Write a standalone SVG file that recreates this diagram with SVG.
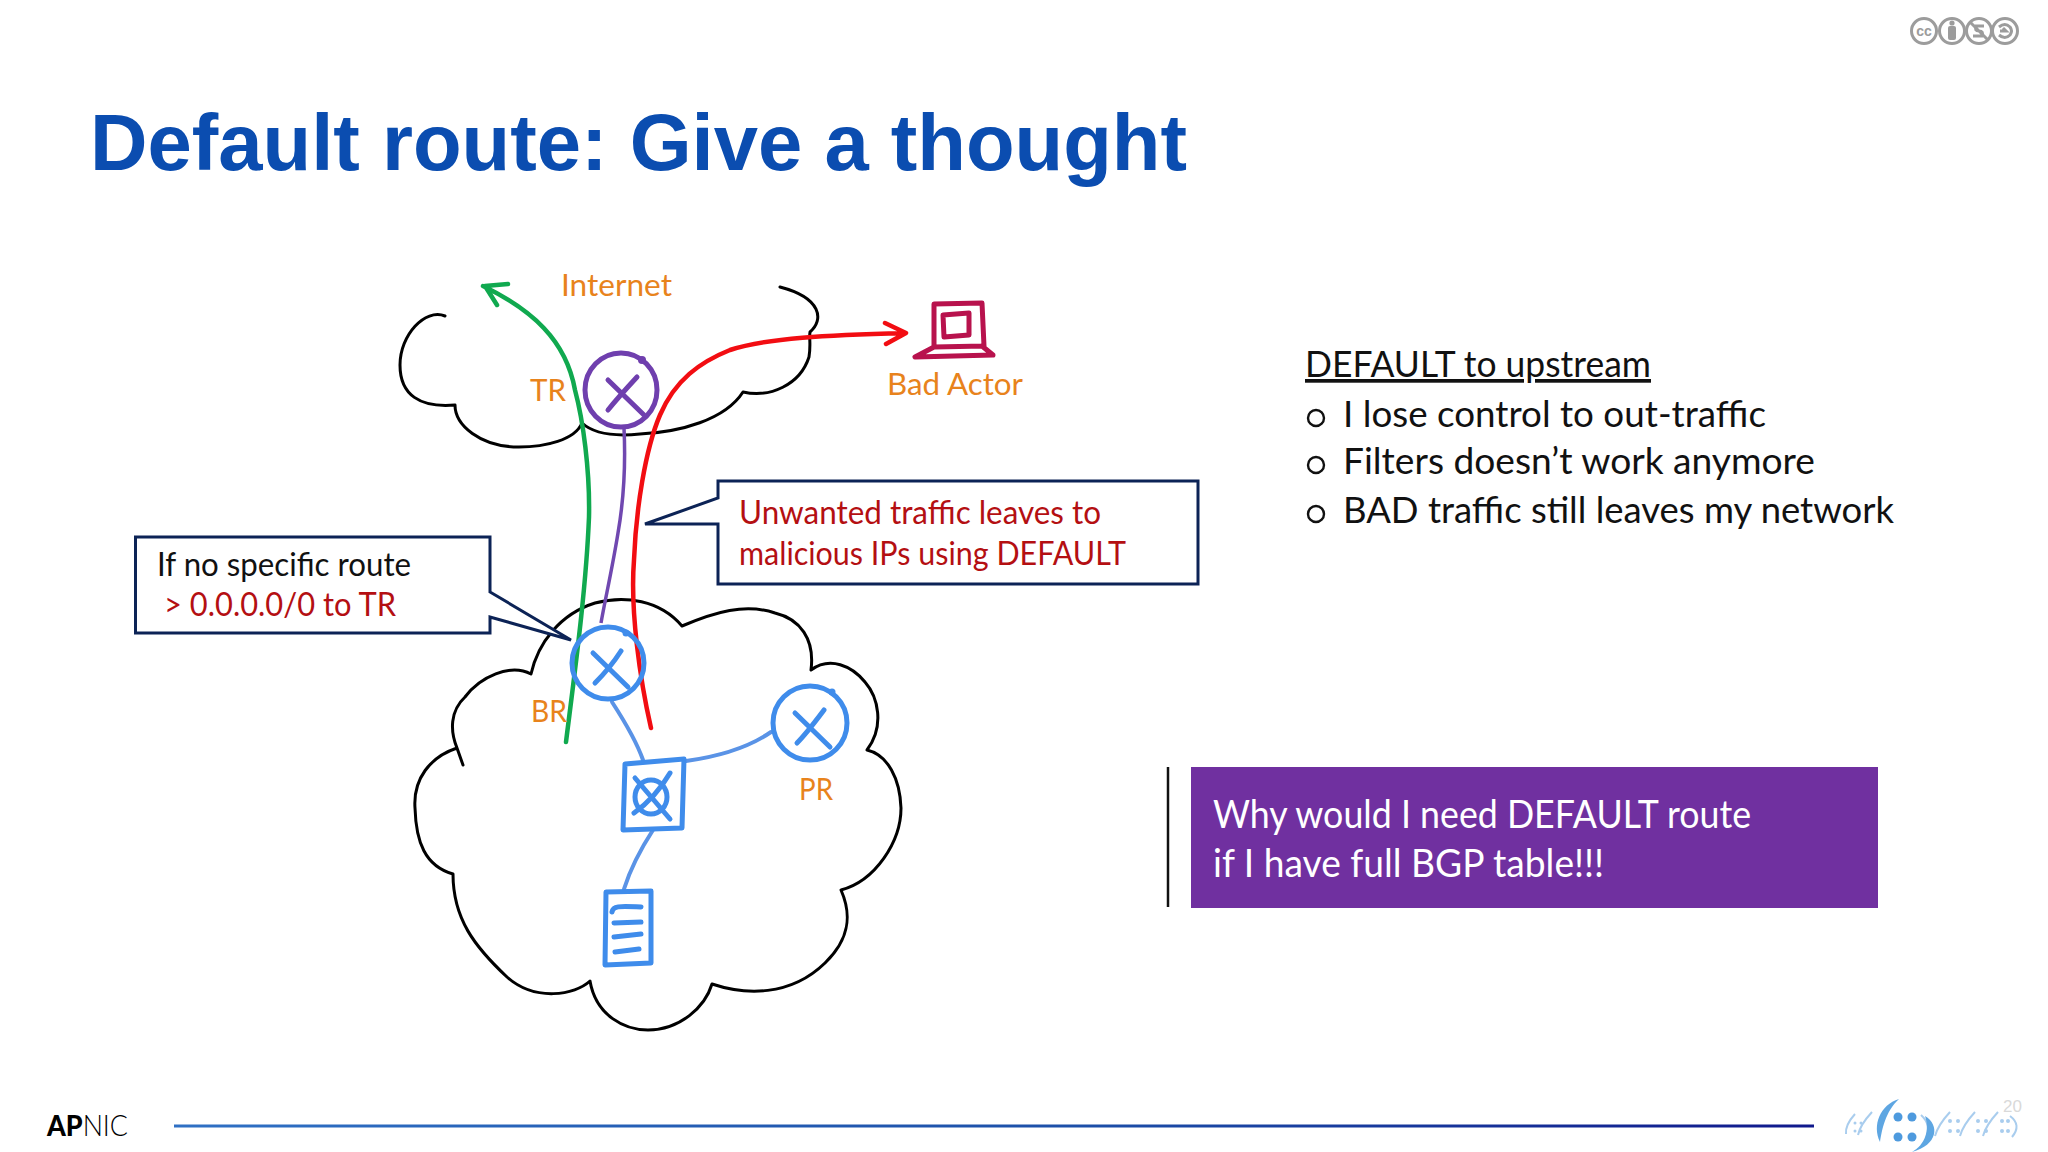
<svg xmlns="http://www.w3.org/2000/svg" width="2048" height="1152" viewBox="0 0 2048 1152">
<defs>
<linearGradient id="rule" x1="0" x2="1" y1="0" y2="0"><stop offset="0" stop-color="#2f70c4"/><stop offset="0.55" stop-color="#1c4fa8"/><stop offset="1" stop-color="#10198c"/></linearGradient>
</defs>
<style>
text{font-family:"Lato","Liberation Sans",sans-serif}
.or{fill:#e8831c;font-size:31px}
.rd{fill:#b40f12;font-size:32px}
.bk{fill:#111;font-size:32px}
.rt{fill:#111;font-size:37px}
.wh{fill:#fff;font-size:38px}
.bul{fill:none;stroke:#111;stroke-width:2.4}
.cl{fill:none;stroke:#000;stroke-width:3;stroke-linecap:round;stroke-linejoin:round}
.bl{fill:none;stroke:#3f8ceb;stroke-width:5;stroke-linecap:round;stroke-linejoin:round}
.lk{fill:none;stroke:#5a93e6;stroke-width:4;stroke-linecap:round}
.pu{fill:none;stroke:#6f3fae;stroke-width:5;stroke-linecap:round;stroke-linejoin:round}
.box{fill:#fff;stroke:#0c2356;stroke-width:3}
.cc{fill:none;stroke:#9c9c9c;stroke-width:3}
</style>
<rect width="2048" height="1152" fill="#fff"/>
<text x="90" y="170" font-size="80" font-weight="700" fill="#0b4db0" style="font-family:'Liberation Sans',sans-serif" textLength="1097" lengthAdjust="spacingAndGlyphs">Default route: Give a thought</text>
<g id="cc-badges">
<circle class="cc" cx="1924" cy="31" r="12.500"/><circle class="cc" cx="1952" cy="31" r="12.500"/><circle class="cc" cx="1979" cy="31" r="12.500"/><circle class="cc" cx="2005" cy="31" r="12.500"/>
<text x="1924" y="36" font-size="14" font-weight="700" text-anchor="middle" fill="#9c9c9c" style="font-family:'Liberation Sans',sans-serif">cc</text>
<circle cx="1952" cy="23" r="2.600" fill="#9c9c9c"/><rect x="1948" y="26" width="8" height="14" rx="2" fill="#9c9c9c"/>
<path d="M1970,22L1988,40M1984,26H1976Q1974,31 1979,31Q1984,31 1982,36H1973" class="cc" stroke-width="2.200"/>
<path d="M1999,27Q2005,22 2010,27Q2013,31 2010,35Q2005,40 1999,35M2000,31h6l-3,-3" class="cc" stroke-width="2.600"/>
</g>
<g id="internet-cloud"><path class="cl" d="M445,316C425,308 400,335 400,365C400,395 420,408 455,405C455,425 480,447 519,447C545,447 575,440 582,423C595,435 620,436 640,434C680,432 725,420 743,392C770,398 800,385 809,357C811,345 809,338 810,332C824,320 822,298 780,287"/></g>
<g id="network-cloud"><path class="cl" d="M463,765L457,748C430,757 413,779 415,808C416,842 425,866 453,874C453,919 475,947 507,977C535,1002 575,995 590,981C596,1016 625,1030 648,1030C680,1030 705,1007 712,984C745,995 790,997 825,963C850,939 852,915 841,890C875,881 901,842 901,808C900,779 888,755 867,750C885,726 878,697 865,682C852,666 830,656 811,670C815,639 800,619 775,613C745,603 715,612 682,626C660,600 625,595 595,603C560,614 538,643 531,674C510,663 480,677 465,697C450,711 450,731 457,748"/></g>
<g id="connectors">
<path d="M624,428C626,470 622,510 618,533C612,570 605,600 601,623" fill="none" stroke="#7048b0" stroke-width="3.500"/>
<path class="lk" d="M612,702C625,722 636,740 643,760"/>
<path class="lk" d="M686,761C715,757 745,750 771,732"/>
<path class="lk" d="M653,830C640,850 630,870 624,889"/>
<path d="M566,742C575,670 586,590 589,517C590,470 583,420 575,390C566,340 532,310 483,286M508,284L485,286L497,305" fill="none" stroke="#10a94f" stroke-width="4.500" stroke-linejoin="round" stroke-linecap="round"/>
<path d="M651,728C640,680 630,610 634,560C636,510 645,450 660,415C675,380 700,362 730,350C765,338 830,335 905,333M885,323L906,333L886,344" fill="none" stroke="#f20d12" stroke-width="4.500" stroke-linejoin="round" stroke-linecap="round"/>
</g>
<g id="tr"><ellipse class="pu" cx="621" cy="390" rx="36" ry="37"/><circle cx="642" cy="360" r="4" fill="#6f3fae"/><path class="pu" d="M608,380L644,415M637,377C625,390 616,400 608,410"/><text class="or" x="530" y="401" textLength="36" lengthAdjust="spacingAndGlyphs">TR</text></g>
<g id="br"><circle class="bl" cx="608" cy="663" r="36"/><circle cx="626" cy="633" r="3.500" fill="#3f8ceb"/><path class="bl" d="M593,653L628,687M621,651C612,665 603,675 595,683"/><text class="or" x="531" y="722" textLength="36" lengthAdjust="spacingAndGlyphs">BR</text></g>
<g id="pr"><circle class="bl" cx="810" cy="723" r="37"/><circle cx="832" cy="692" r="3.500" fill="#3f8ceb"/><path class="bl" d="M795,713L830,747M824,710C815,722 805,735 797,743"/><text class="or" x="799" y="800" textLength="34" lengthAdjust="spacingAndGlyphs">PR</text></g>
<g id="switch"><path class="bl" d="M625,764L684,759L682,828L623,830Z"/><ellipse class="bl" cx="651" cy="797" rx="16" ry="17"/><path class="bl" d="M635,778L670,819M670,773C660,790 648,803 634,813"/></g>
<g id="server"><path class="bl" d="M606,892L651,891L651,963L605,965Z"/><path class="bl" d="M612,912C613,906 618,906 641,907M614,923L641,922M614,937L641,934M615,952L639,949" stroke-width="4"/></g>
<g id="bad-actor"><path d="M934,304L982,303L984,346L934,347ZM943,315L969,313L969,335L944,337ZM934,347L915,357L993,355L982,346" fill="none" stroke="#b8124d" stroke-width="5" stroke-linejoin="round" stroke-linecap="round"/><text class="or" x="887" y="395" textLength="136" lengthAdjust="spacingAndGlyphs">Bad Actor</text></g>
<g id="internet-label"><text class="or" x="561" y="296" textLength="111" lengthAdjust="spacingAndGlyphs">Internet</text></g>
<g id="callout-route"><path class="box" d="M135.500,537H490V592L571,640L490,617V633H135.500Z"/><text class="bk" x="157" y="576" textLength="254" lengthAdjust="spacingAndGlyphs">If no specific route</text><text class="rd" x="164" y="616" textLength="232" lengthAdjust="spacingAndGlyphs">&gt; 0.0.0.0/0 to TR</text></g>
<g id="callout-traffic"><path class="box" d="M718,481H1198V584H718V524H645L718,498Z"/><text class="rd" x="739" y="524" textLength="362" lengthAdjust="spacingAndGlyphs">Unwanted traffic leaves to</text><text class="rd" x="739" y="565" textLength="387" lengthAdjust="spacingAndGlyphs">malicious IPs using DEFAULT</text></g>
<g id="notes">
<text class="rt" x="1305" y="377" text-decoration="underline" textLength="346" lengthAdjust="spacingAndGlyphs">DEFAULT to upstream</text>
<circle class="bul" cx="1316" cy="418" r="8"/><text class="rt" x="1343" y="427" textLength="423" lengthAdjust="spacingAndGlyphs">I lose control to out-traffic</text>
<circle class="bul" cx="1316" cy="465" r="8"/><text class="rt" x="1343" y="474" textLength="472" lengthAdjust="spacingAndGlyphs">Filters doesn’t work anymore</text>
<circle class="bul" cx="1316" cy="514" r="8"/><text class="rt" x="1343" y="523" textLength="551" lengthAdjust="spacingAndGlyphs">BAD traffic still leaves my network</text>
</g>
<g id="question"><path d="M1168,767V907" stroke="#111" stroke-width="2.500"/><rect x="1191" y="767" width="687" height="141" fill="#7030a0"/><text class="wh" x="1213" y="828" textLength="538" lengthAdjust="spacingAndGlyphs">Why would I need DEFAULT route</text><text class="wh" x="1213" y="877" textLength="391" lengthAdjust="spacingAndGlyphs">if I have full BGP table!!!</text></g>
<g id="footer">
<text x="47" y="1136" font-size="29" fill="#000" textLength="81" lengthAdjust="spacingAndGlyphs"><tspan font-weight="900">AP</tspan><tspan font-weight="300">NIC</tspan></text>
<rect x="174" y="1124.500" width="1640" height="3" fill="url(#rule)"/>
<g fill="none" stroke="#a9cdee" stroke-width="2"><path d="M1855,1114Q1845,1125 1846,1134M1872,1112Q1860,1125 1858,1135M1921,1115Q1932,1125 1926,1138M1950,1112Q1938,1125 1935,1136M1975,1112Q1963,1125 1960,1136M1998,1112Q1986,1125 1983,1136M2010,1116Q2022,1125 2012,1137"/></g>
<g fill="#a9cdee"><circle cx="1855" cy="1123" r="1.500"/><circle cx="1861" cy="1123" r="1.500"/><circle cx="1855" cy="1131" r="1.500"/><circle cx="1861" cy="1131" r="1.500"/><circle cx="1950" cy="1121" r="2"/><circle cx="1958" cy="1121" r="2"/><circle cx="1950" cy="1131" r="2"/><circle cx="1958" cy="1131" r="2"/><circle cx="1978" cy="1121" r="2"/><circle cx="1986" cy="1121" r="2"/><circle cx="1978" cy="1131" r="2"/><circle cx="1986" cy="1131" r="2"/><circle cx="2002" cy="1121" r="2"/><circle cx="2008" cy="1121" r="2"/><circle cx="2002" cy="1131" r="2"/><circle cx="2008" cy="1131" r="2"/></g>
<path d="M1899,1099C1880,1105 1872,1125 1880,1142C1882,1130 1885,1112 1899,1099Z" fill="#5ea6e2"/>
<path d="M1925,1116C1940,1125 1938,1145 1912,1152C1925,1145 1930,1130 1925,1116Z" fill="#5ea6e2"/>
<g fill="#4e9ade"><circle cx="1898" cy="1117" r="4.500"/><circle cx="1912" cy="1117" r="4.500"/><circle cx="1898" cy="1137" r="4.500"/><circle cx="1912" cy="1137" r="4.500"/></g>
<text x="2003" y="1112" font-size="17" fill="#d9d9d9" style="font-family:'Liberation Sans',sans-serif">20</text>
</g>
</svg>
